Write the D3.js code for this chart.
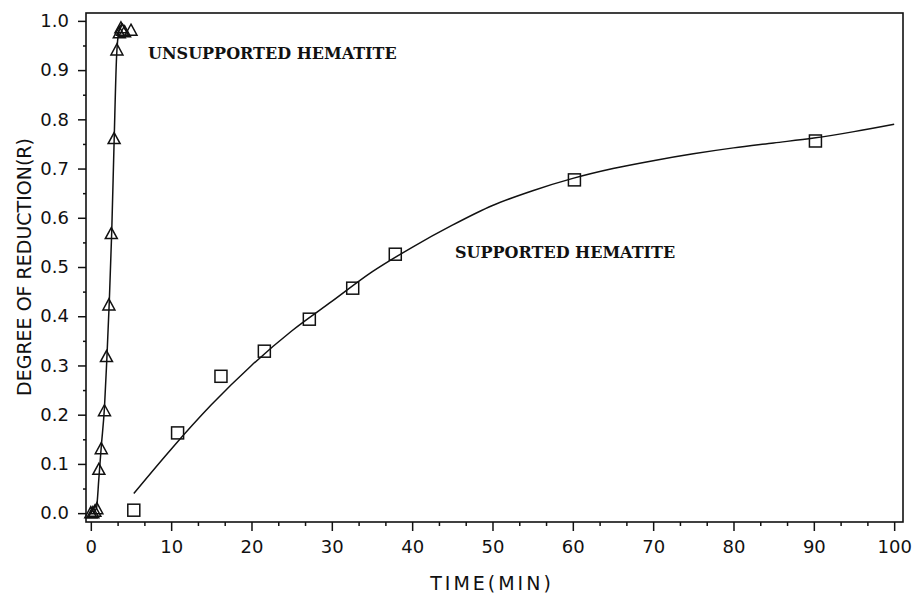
<!DOCTYPE html>
<html>
<head>
<meta charset="utf-8">
<script src="https://cdn.jsdelivr.net/npm/d3@7"></script>
<style>
  body { margin: 0; background: #fff; }
  svg { display: block; }
  .tick text { font-family: "DejaVu Sans", sans-serif; font-size: 18px; fill: #111; }
  .title { font-family: "DejaVu Sans", sans-serif; font-size: 19px; fill: #111; }
  .note { font-family: "DejaVu Serif", serif; font-weight: bold; font-size: 16px; fill: #111; }
</style>
</head>
<body>
<svg id="chart" width="915" height="610"></svg>
<script>
// unsupported hematite (triangles), time in min / degree of reduction
var unsupT = [0, 0.25, 0.5, 0.75, 1.0, 1.3, 1.7, 1.95, 2.25, 2.55, 2.9, 3.25, 3.55, 3.75, 3.95, 4.2, 5.0];
var unsupR = [0, 0, 0.003, 0.008, 0.088, 0.13, 0.207, 0.317, 0.422, 0.567, 0.76, 0.94, 0.975, 0.985, 0.98, 0.977, 0.98];
// fitted curve for the unsupported sample
var unsupFitT = [0.3, 0.7, 1.0, 1.3, 1.7, 2.0, 2.3, 2.6, 2.9, 3.2, 3.5, 3.9];
var unsupFitR = [0.0, 0.01, 0.07, 0.135, 0.215, 0.315, 0.43, 0.57, 0.755, 0.925, 0.98, 0.995];

// supported hematite (squares)
var supT = [5.35, 10.8, 16.2, 21.6, 27.2, 32.6, 37.9, 60.2, 90.2];
var supR = [0.006, 0.163, 0.278, 0.329, 0.394, 0.457, 0.526, 0.677, 0.756];
// fitted curve for the supported sample
var supFitT = [5.35, 10, 15, 20, 25, 30, 35, 40, 45, 50, 55, 60, 65, 70, 75, 80, 85, 90, 95, 100];
var supFitR = [0.04, 0.13, 0.22, 0.30, 0.37, 0.43, 0.49, 0.54, 0.585, 0.625, 0.655, 0.68, 0.70, 0.716, 0.73, 0.742, 0.752, 0.762, 0.775, 0.79];

var xTicks = [0, 10, 20, 30, 40, 50, 60, 70, 80, 90, 100];
var yTicks = [0, 0.1, 0.2, 0.3, 0.4, 0.5, 0.6, 0.7, 0.8, 0.9, 1.0];

var svg = d3.select('#chart');
var plotLeft = 86, plotRight = 903, plotTop = 13, plotBottom = 522;

var x = d3.scaleLinear().domain([-0.6, 101.1]).range([plotLeft, plotRight]);
var y = d3.scaleLinear().domain([-0.018, 1.016]).range([plotBottom, plotTop]);

// minor ticks, two between each labelled x tick, one between each y tick
var xMinor = [];
xTicks.slice(0, -1).forEach(v => { xMinor.push(v + 10 / 3, v + 20 / 3); });
var yMinor = yTicks.slice(0, -1).map(v => v + 0.05);

svg.append('g')
  .attr('transform', `translate(0,${plotBottom})`)
  .call(d3.axisBottom(x).tickValues(xMinor).tickSize(4).tickFormat(''))
  .call(g => g.select('.domain').remove())
  .selectAll('line').attr('stroke', '#111').attr('stroke-width', 1.5);

svg.append('g')
  .attr('transform', `translate(${plotLeft},0)`)
  .call(d3.axisLeft(y).tickValues(yMinor).tickSize(3).tickFormat(''))
  .call(g => g.select('.domain').remove())
  .selectAll('line').attr('stroke', '#111').attr('stroke-width', 1.5);

// major ticks
svg.append('g')
  .attr('transform', `translate(0,${plotBottom})`)
  .call(d3.axisBottom(x).tickValues(xTicks).tickSize(9).tickPadding(9).tickFormat(d3.format('d')))
  .call(g => g.select('.domain').remove())
  .call(g => g.selectAll('line').attr('stroke', '#111').attr('stroke-width', 1.5));

svg.append('g')
  .attr('transform', `translate(${plotLeft},0)`)
  .call(d3.axisLeft(y).tickValues(yTicks).tickSize(8).tickPadding(9).tickFormat(d3.format('.1f')))
  .call(g => g.select('.domain').remove())
  .call(g => g.selectAll('line').attr('stroke', '#111').attr('stroke-width', 1.5));

// frame
svg.append('rect')
  .attr('x', plotLeft).attr('y', plotTop)
  .attr('width', plotRight - plotLeft).attr('height', plotBottom - plotTop)
  .attr('fill', 'none').attr('stroke', '#111').attr('stroke-width', 1.6);

// fitted curves
var line = d3.line()
  .x(d => x(d[0])).y(d => y(d[1]))
  .curve(d3.curveMonotoneX);

svg.append('path')
  .datum(unsupFitT.map((t, i) => [t, unsupFitR[i]]))
  .attr('d', line)
  .attr('fill', 'none').attr('stroke', '#111').attr('stroke-width', 1.5);

svg.append('path')
  .datum(supFitT.map((t, i) => [t, supFitR[i]]))
  .attr('d', line)
  .attr('fill', 'none').attr('stroke', '#111').attr('stroke-width', 1.5);

// triangles
svg.append('g').selectAll('path')
  .data(unsupT.map((t, i) => [t, unsupR[i]]))
  .enter().append('path')
  .attr('transform', d => `translate(${x(d[0])},${y(d[1])})`)
  .attr('d', 'M0,-6.5 L6,4.5 L-6,4.5 Z')
  .attr('fill', 'none').attr('stroke', '#111').attr('stroke-width', 1.5);

// squares
svg.append('g').selectAll('rect')
  .data(supT.map((t, i) => [t, supR[i]]))
  .enter().append('rect')
  .attr('x', d => x(d[0]) - 6).attr('y', d => y(d[1]) - 6)
  .attr('width', 12).attr('height', 12)
  .attr('fill', 'none').attr('stroke', '#111').attr('stroke-width', 1.5);

// labels
svg.append('text').attr('class', 'note')
  .attr('x', 148).attr('y', 59)
  .text('UNSUPPORTED HEMATITE');

svg.append('text').attr('class', 'note')
  .attr('x', 455).attr('y', 258)
  .text('SUPPORTED HEMATITE');

svg.append('text').attr('class', 'title')
  .attr('x', 492).attr('y', 590)
  .attr('text-anchor', 'middle')
  .style('letter-spacing', '3px')
  .text('TIME(MIN)');

svg.append('text').attr('class', 'title')
  .attr('transform', 'translate(31,267) rotate(-90)')
  .attr('text-anchor', 'middle')
  .text('DEGREE OF REDUCTION(R)');
</script>
</body>
</html>
